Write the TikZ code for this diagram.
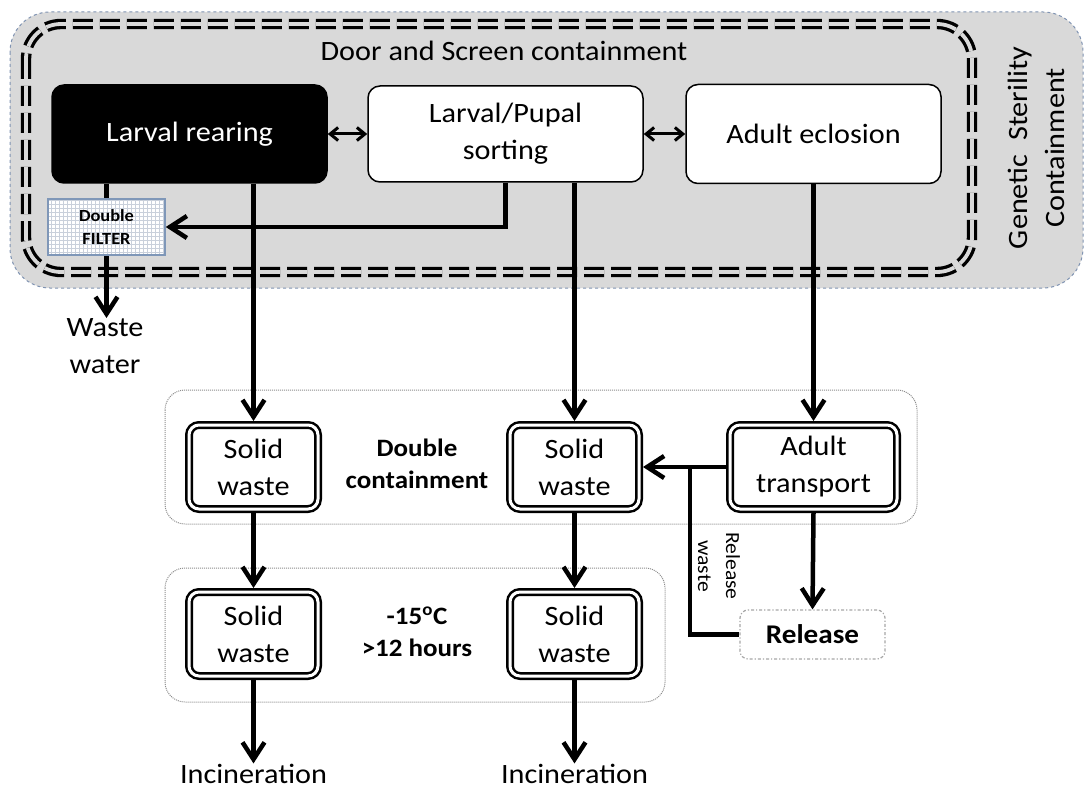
\documentclass[tikz,border=0pt]{standalone}
\usepackage{fontspec}
\setmainfont{Carlito}[FakeStretch=1.08]
\usetikzlibrary{arrows.meta,calc}
\definecolor{bggray}{HTML}{D9D9D9}
\definecolor{bordblue}{HTML}{7F93B2}
\definecolor{gridcol}{HTML}{C9D0DB}
\definecolor{filterbord}{HTML}{7F97B8}
\tikzset{
  conn/.style={line width=4.5pt},
  arr/.style={line width=4.5pt,-{Straight Barb[length=17pt,width=22pt]}},
  dblarr/.style={line width=3pt,{Straight Barb[length=8pt,width=13pt]}-{Straight Barb[length=8pt,width=13pt]}},
  mainfont/.style={font=\fontsize{28}{37}\selectfont},
  topbox/.style={draw=black,line width=1.5pt,rounded corners=12pt,fill=white,align=center,mainfont},
  dbox/.style={draw=black,line width=2.5pt,double=white,double distance=3pt,rounded corners=10pt,
     fill=white,minimum width=129,minimum height=84,align=center,outer sep=4pt,mainfont},
  filterbox/.style={draw=filterbord,line width=1.5pt,fill=white,align=center,
     font=\fontsize{17}{23}\selectfont\bfseries,
     path picture={\draw[gridcol,line width=0.7pt,step=4pt]
       (path picture bounding box.south west) grid (path picture bounding box.north east);}},
  relbox/.style={draw=black!35,line width=1.2pt,dash dot,rounded corners=8pt,fill=white,
     minimum width=145,minimum height=49,font=\fontsize{27}{32}\selectfont\bfseries},
  lbl/.style={align=center,mainfont,inner sep=2pt},
  boldlbl/.style={align=center,font=\fontsize{25}{32}\selectfont\bfseries},
  zone/.style={draw=black!45,densely dotted,line width=1pt,rounded corners=20pt},
}
\begin{document}
\begin{tikzpicture}[x=1pt,y=-1pt]
\useasboundingbox (0,0) rectangle (1085,789);
% Genetic sterility containment (outer grey area)
\draw[bordblue,dashed,line width=1pt,fill=bggray,rounded corners=40pt] (10,12) rectangle (1083,288);
% Door and screen containment (double dashed)
\draw[line width=3.3pt,double=bggray,double distance=3.8pt,dash pattern=on 20pt off 7pt,rounded corners=35pt]
  (26,24) rectangle (972,272);
\node[lbl] (door) at (504,51) {Door and Screen containment};
\node[lbl,rotate=90] (gsc) at (1036,148) {Genetic\ \ Sterility\\Containment};

% lower zones
\draw[zone] (165,390) rectangle (917,524);
\draw[zone] (165,568) rectangle (665,702);

% top process boxes
\node[topbox,fill=black,text=white,minimum width=275,minimum height=98] (lr) at (189.5,134) {Larval rearing};
\node[topbox,minimum width=275,minimum height=96] (sort) at (505.5,134) {Larval/Pupal\\sorting};
\node[topbox,minimum width=255,minimum height=99] (ae) at (813.5,134) {Adult eclosion};

\node[filterbox,minimum width=117,minimum height=56] (filter) at (106.5,227) {Double\\FILTER};

% waste boxes
\node[dbox] (sw1) at (253.5,467) {Solid\\waste};
\node[dbox] (sw2) at (574.5,467) {Solid\\waste};
\node[dbox,minimum width=167] (at) at (813.5,467) {Adult\\transport};
\node[dbox] (sw3) at (253.5,634) {Solid\\waste};
\node[dbox] (sw4) at (574.5,634) {Solid\\waste};
\node[relbox] (rel) at (812.5,634.5) {Release};

\node[boldlbl] (dc) at (417,464) {Double\\containment};
\node[boldlbl] (temp) at (417,632) {-15\textsuperscript{o}C\\>12 hours};

\node[lbl,anchor=north,inner sep=0pt] (ww) at (105,318) {Waste\\water};
\node[lbl,anchor=base,inner sep=0pt] (inc1) at (253.5,783) {Incineration};
\node[lbl,anchor=base,inner sep=0pt] (inc2) at (574.5,783) {Incineration};

\node[align=center,font=\fontsize{20}{28}\selectfont,rotate=-90] (rw) at (719,566) {Release\\waste};

% connectors
\draw[dblarr] (lr.east) -- (sort.west);
\draw[dblarr] (sort.east) -- (ae.west);
\draw[conn] (lr.south -| filter.north) -- (filter.north);
\draw[arr] (filter.south) -- (filter.south |- ww.north);
\draw[arr] (sort.south) |- (filter.east);
\draw[arr] (lr.south -| sw1.north) -- (sw1.north);
\draw[arr] (sort.south -| sw2.north) -- (sw2.north);
\draw[arr] (ae.south) -- (at.north);
\draw[arr] (sw1.south) -- (sw3.north);
\draw[arr] (sw2.south) -- (sw4.north);
\draw[arr] (sw3.south) -- (inc1.north);
\draw[arr] (sw4.south) -- (inc2.north);
\draw[arr] (at.west) -- (sw2.east);
\coordinate (jn) at (690,467);
\draw[conn] (jn) |- (rel.west);
\draw[arr] (at.south) -- (rel.north);
\end{tikzpicture}
\end{document}
